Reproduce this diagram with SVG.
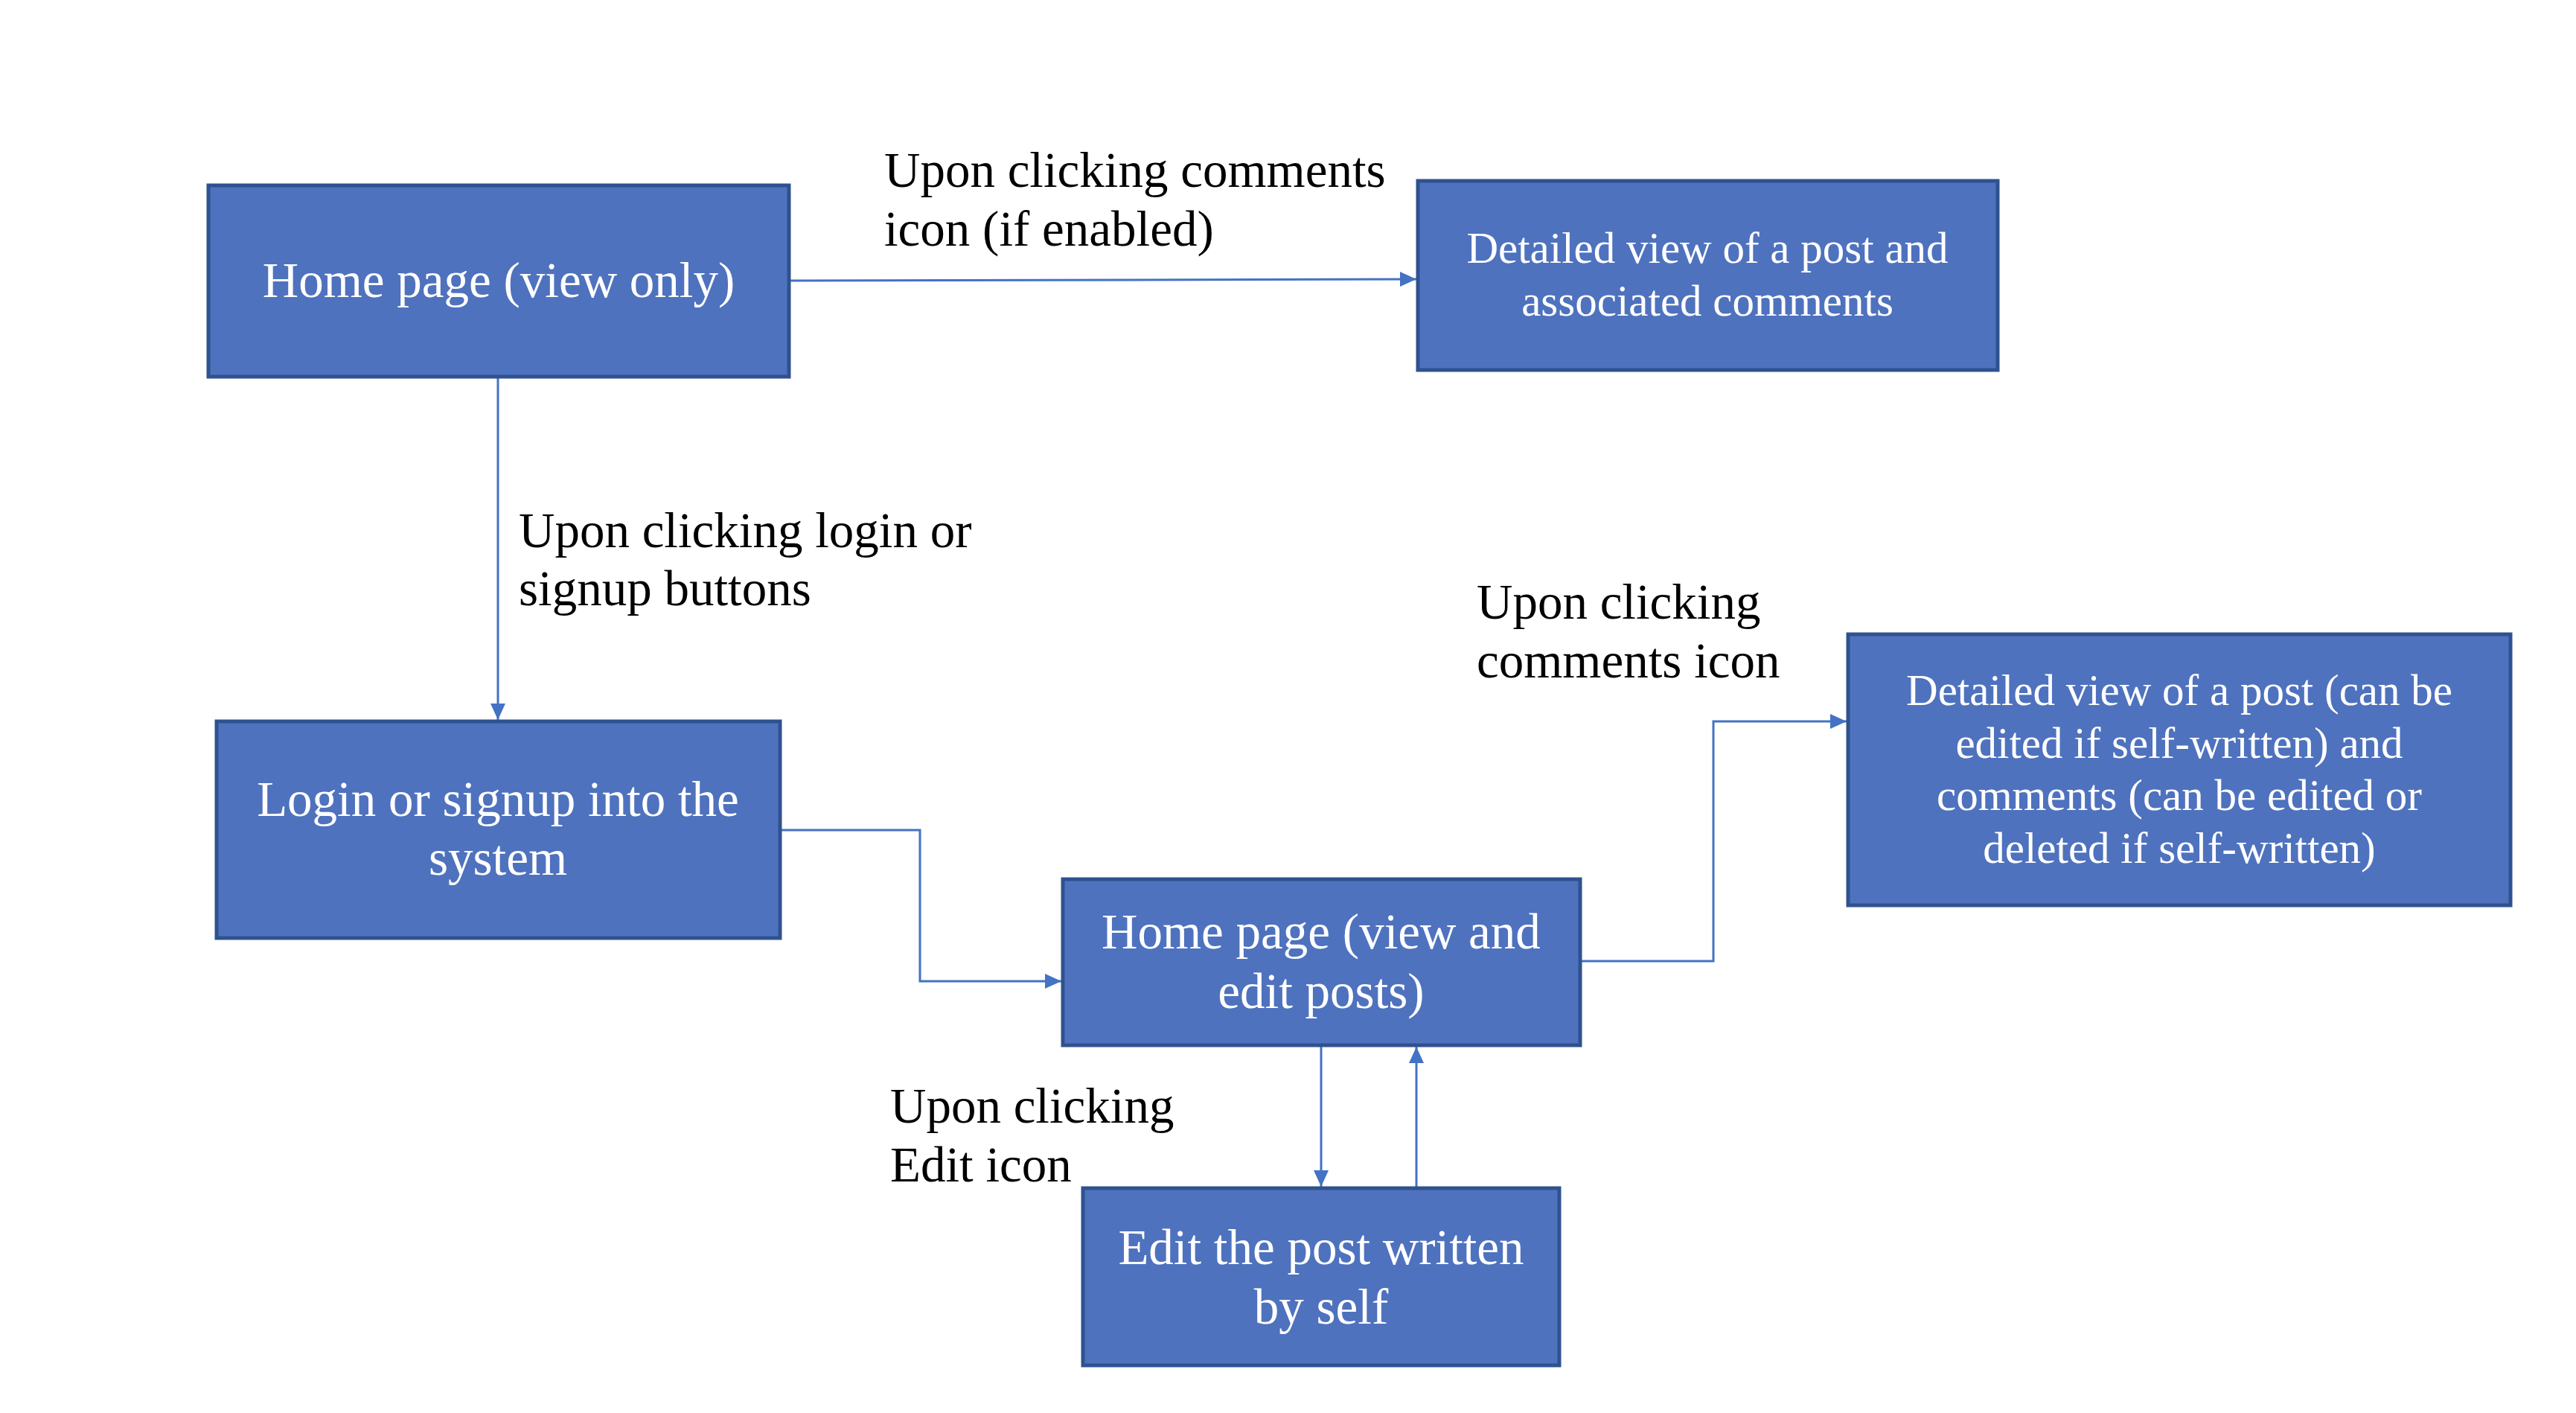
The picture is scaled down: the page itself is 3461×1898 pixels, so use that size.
<svg xmlns="http://www.w3.org/2000/svg" width="3461" height="1898" viewBox="0 0 3461 1898">
<style>
.box{fill:#4F72BE;stroke:#2F528F;stroke-width:5}
.bt{fill:#fff;text-anchor:middle}
.big{font-size:67px}
.sm{font-size:59px}
.lbl{fill:#000;font-size:67px}
.con{fill:none;stroke:#4472C4;stroke-width:3}
</style>
<defs>
<marker id="ah" markerUnits="userSpaceOnUse" markerWidth="24" markerHeight="24" viewBox="0 0 24 24" refX="22" refY="12" orient="auto">
<path d="M0,2 L22,12 L0,22 Z" fill="#4472C4"/>
</marker>
</defs>
<rect width="3461" height="1898" fill="#fff"/>
<g id="connectors">
<path class="con" d="M1060,377 L1903,375" marker-end="url(#ah)"/>
<path class="con" d="M669,506 L669,967" marker-end="url(#ah)"/>
<path class="con" d="M1048,1115 L1236,1115 L1236,1318 L1426,1318" marker-end="url(#ah)"/>
<path class="con" d="M2123,1291 L2302,1291 L2302,969 L2481,969" marker-end="url(#ah)"/>
<path class="con" d="M1775,1404 L1775,1594" marker-end="url(#ah)"/>
<path class="con" d="M1903,1596 L1903,1406" marker-end="url(#ah)"/>
</g>
<g font-family="'Liberation Serif', 'Times New Roman', 'DejaVu Serif', serif">
<g id="n1"><rect class="box" x="280" y="249" width="780" height="257"/><text class="bt big" x="670" y="399">Home page (view only)</text></g>
<g id="n2"><rect class="box" x="1905" y="243" width="779" height="254"/><text class="bt sm" x="2294" y="353">Detailed view of a post and</text><text class="bt sm" x="2294" y="424">associated comments</text></g>
<g id="n3"><rect class="box" x="291" y="969" width="757" height="291"/><text class="bt big" x="669" y="1096">Login or signup into the</text><text class="bt big" x="669" y="1175">system</text></g>
<g id="n4"><rect class="box" x="1428" y="1181" width="695" height="223"/><text class="bt big" x="1775" y="1274">Home page (view and</text><text class="bt big" x="1775" y="1354">edit posts)</text></g>
<g id="n5"><rect class="box" x="2483" y="852" width="890" height="364"/><text class="bt sm" x="2928" y="947">Detailed view of a post (can be</text><text class="bt sm" x="2928" y="1018">edited if self-written) and</text><text class="bt sm" x="2928" y="1088">comments (can be edited or</text><text class="bt sm" x="2928" y="1159">deleted if self-written)</text></g>
<g id="n6"><rect class="box" x="1455" y="1596" width="640" height="238"/><text class="bt big" x="1775" y="1698">Edit the post written</text><text class="bt big" x="1775" y="1778">by self</text></g>
<g id="labels">
<text class="lbl" x="1188" y="251">Upon clicking comments</text><text class="lbl" x="1188" y="330">icon (if enabled)</text>
<text class="lbl" x="697" y="735">Upon clicking login or</text><text class="lbl" x="697" y="813">signup buttons</text>
<text class="lbl" x="1984" y="831">Upon clicking</text><text class="lbl" x="1984" y="910">comments icon</text>
<text class="lbl" x="1196" y="1508">Upon clicking</text><text class="lbl" x="1196" y="1587">Edit icon</text>
</g>
</g>
</svg>
